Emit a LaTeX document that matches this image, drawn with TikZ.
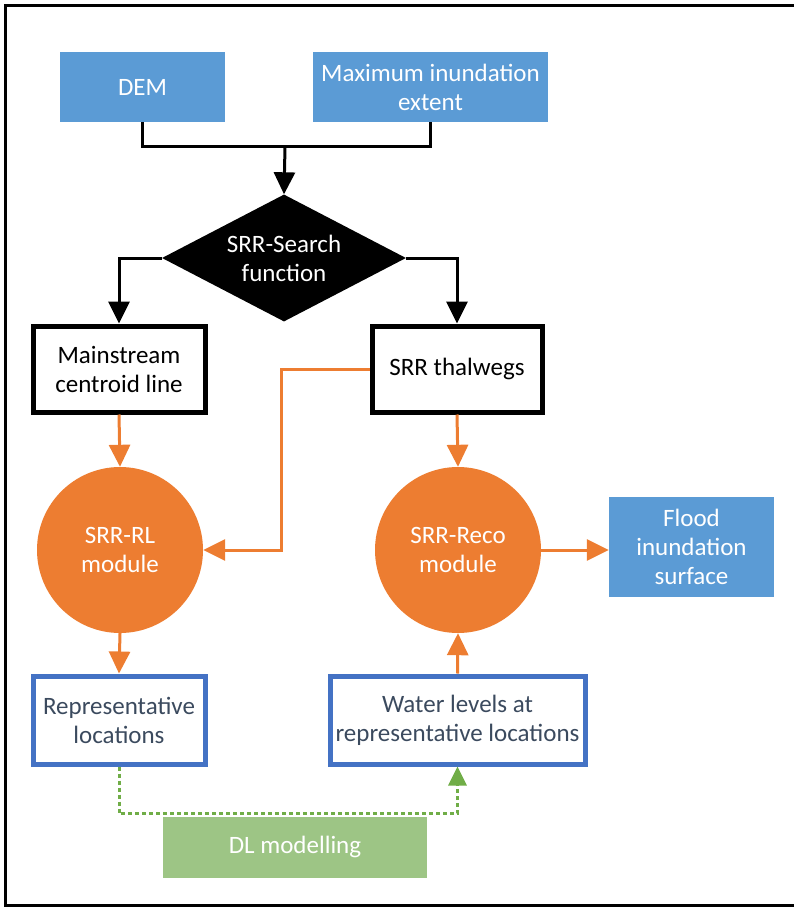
\documentclass[tikz,border=0pt]{standalone}
\usepackage{fontspec}
\setmainfont{Carlito}
\usepackage{tikz}
\usetikzlibrary{arrows.meta, shapes.geometric}

\definecolor{inblue}{HTML}{5B9BD5}
\definecolor{frameblue}{HTML}{4472C4}
\definecolor{modorange}{HTML}{ED7D31}
\definecolor{dlgreen}{HTML}{9DC585}
\definecolor{arrowgreen}{HTML}{70AD47}
\definecolor{slate}{HTML}{3B4A5E}

\begin{document}
\begin{tikzpicture}[x=1pt, y=-1pt,
  every node/.style={font=\fontsize{25}{29}\selectfont, align=center},
  inbox/.style={fill=inblue, text=white, minimum width=#1, minimum height=70},
  blackbox/.style={draw, line width=5pt, minimum width=#1, minimum height=86},
  bluebox/.style={draw=frameblue, line width=5pt, text=slate, minimum width=#1, minimum height=88},
  module/.style={circle, fill=modorange, text=white, minimum size=166, inner sep=0},
  blk/.style={line width=3pt, -{Triangle[width=21pt,length=22pt]}},
  org/.style={modorange, line width=3pt, -{Triangle[width=21pt,length=22pt]}},
  grn/.style={arrowgreen, line width=3pt, dashed, dash pattern=on 4pt off 3pt, -{Triangle[width=18pt,length=19pt]}}]
\useasboundingbox (0,0) rectangle (794,909);
\draw[line width=3pt] (800,6) -- (5,6) -- (5,905) -- (800,905);

% inputs
\node[inbox=165] (dem) at (142.5,87) {DEM};
\node[inbox=235] (maxext) at (430.5,87) {Maximum inundation\\extent};
\node[diamond, fill=black, text=white, aspect=1.9, inner sep=0,
  minimum width=244, minimum height=127] (search) at (284,258) {SRR-Search\\function};

% outputs of the search
\node[blackbox=172] (mainline) at (119,369) {Mainstream\\centroid line};
\node[blackbox=170] (thalweg) at (457,369) {SRR thalwegs};

% modules
\node[module] (rl) at (120,550) {SRR-RL\\module};
\node[module] (reco) at (458,550) {SRR-Reco\\module};
\node[fill=inblue, text=white, minimum width=165, minimum height=100] (flood) at (691.5,547) {Flood\\inundation\\surface};

\node[bluebox=172] (repr) at (119,720) {Representative\\locations};
\node[bluebox=255, inner sep=2pt] (water) at (457.5,720) {Water levels at\\representative locations};
\node[fill=dlgreen, text=white, minimum width=264, minimum height=61] (dl) at (295,847) {DL modelling};

\coordinate (joint) at (285,147);
\draw[line width=3pt] (dem.south) |- (joint);
\draw[line width=3pt] (maxext.south) |- (joint);
\draw[blk] (joint) -- (search.north);
\draw[blk] (search.west) -| (mainline.north);
\draw[blk] (search.east) -| (thalweg.north);

\draw[org] (mainline.south) -- (rl.north);
\draw[org] (thalweg.south) -- (reco.north);
\draw[org] (thalweg.west) -- ++(-88,0) |- (rl.east);
\draw[org] (reco.east) -- (reco.east -| flood.west);
\draw[org] (rl.south) -- (repr.north);
\draw[org] (water.north) -- (reco.south);

\draw[grn] (repr.south) -- ++(0,47) -| (water.south);
\end{tikzpicture}
\end{document}
